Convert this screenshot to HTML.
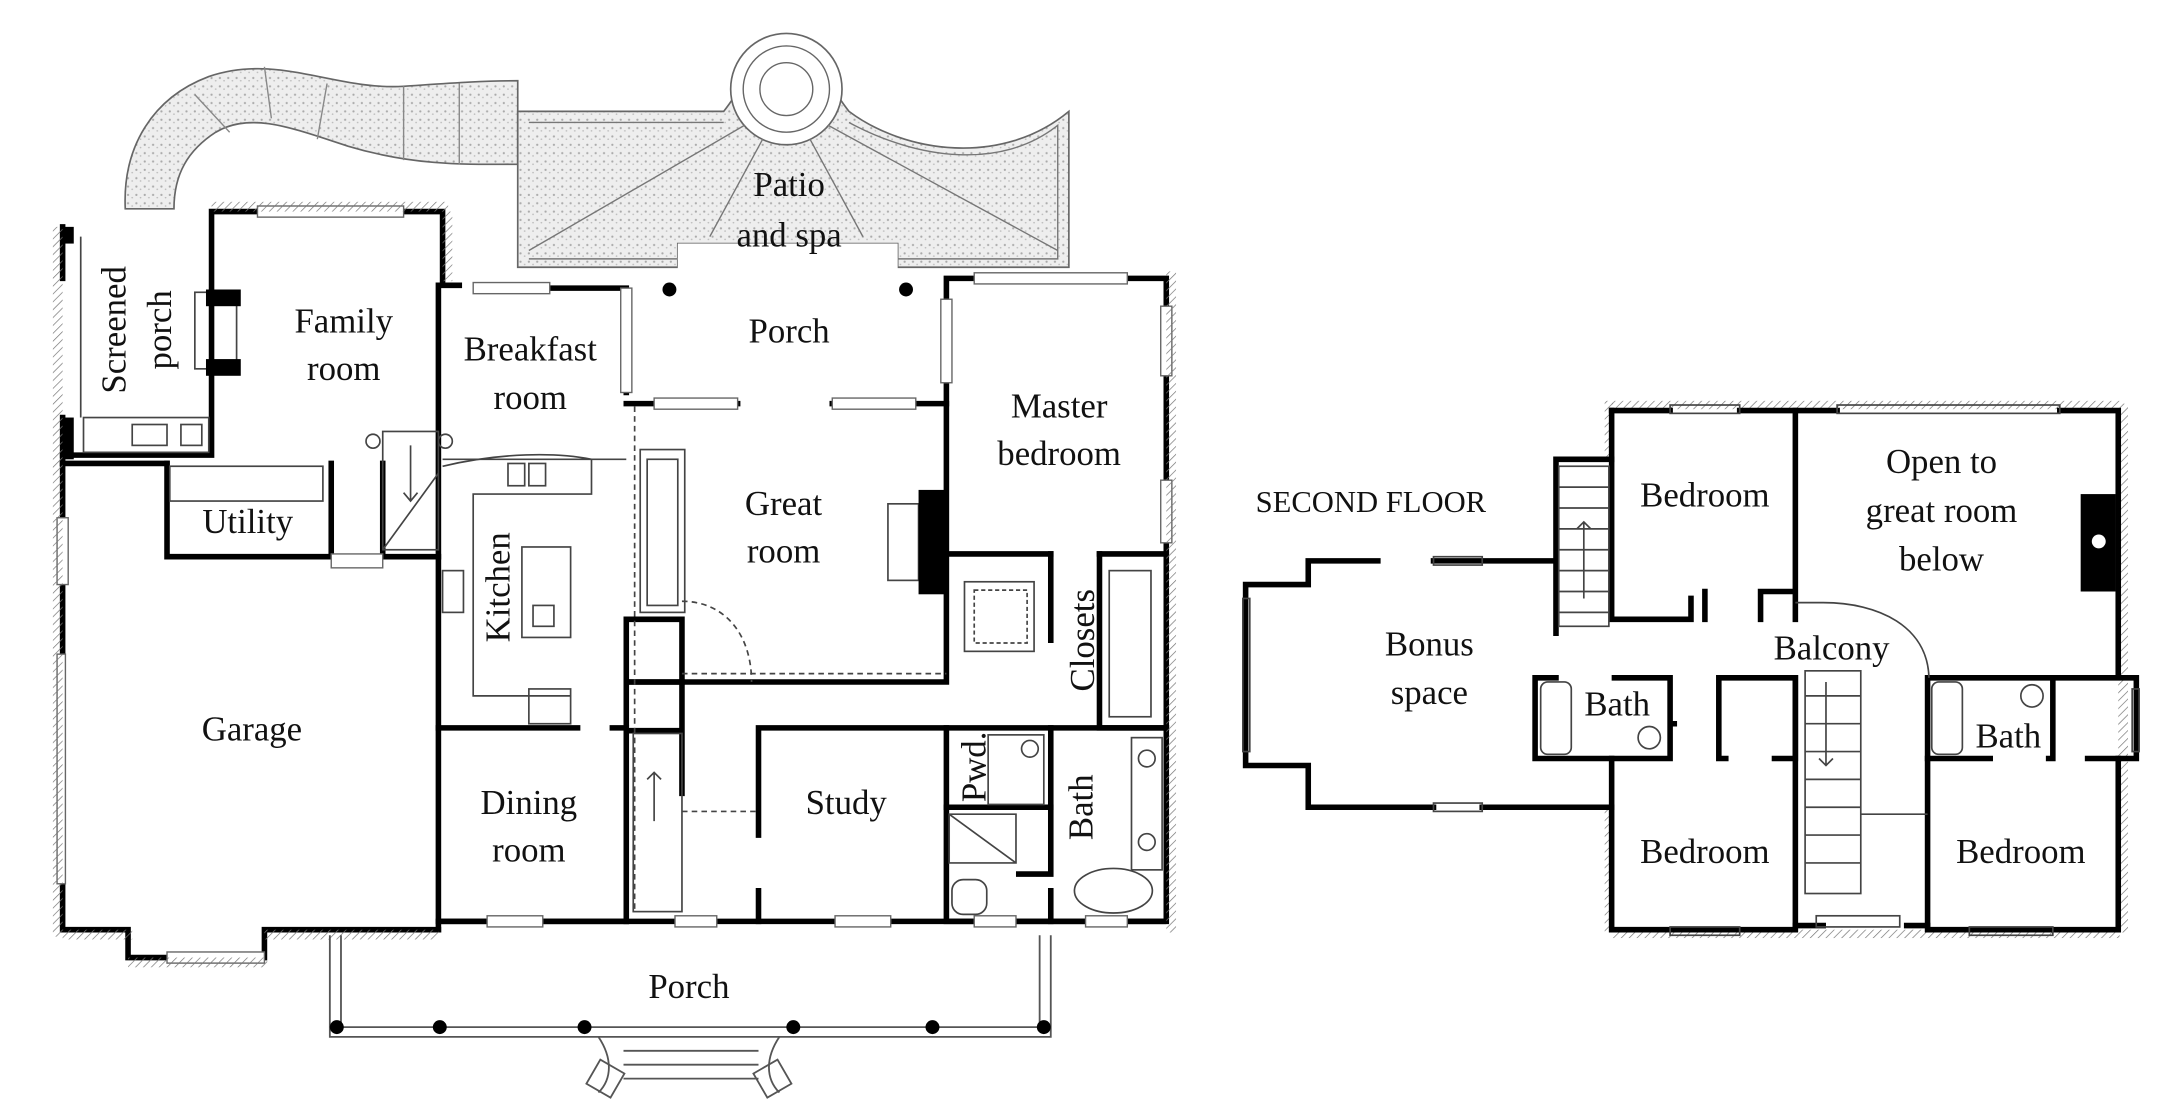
<!DOCTYPE html>
<html><head><meta charset="utf-8"><style>
html,body{margin:0;padding:0;background:#fff;width:2160px;height:1119px;overflow:hidden}
svg{display:block}
text{font-family:"Liberation Serif",serif;fill:#111}
</style></head><body>
<svg width="2160" height="1119" viewBox="0 0 1552 804" xmlns="http://www.w3.org/2000/svg">
<defs>
<pattern id="dots" width="6" height="6" patternUnits="userSpaceOnUse"><rect width="6" height="6" fill="#eee"/><circle cx="2" cy="2" r="0.8" fill="#aaa"/><circle cx="5" cy="4" r="0.6" fill="#bbb"/></pattern>
<pattern id="hatch" width="4" height="4" patternUnits="userSpaceOnUse" patternTransform="rotate(45)"><line x1="0" y1="0" x2="0" y2="4" stroke="#777" stroke-width="1"/></pattern>
</defs>
<rect width="1552" height="804" fill="#fff"/>

<!-- walkway -->
<path d="M90,150 C88,105 110,70 150,55 C200,38 240,65 290,62 C320,60 345,58 372,58 L372,118 C340,118 300,120 250,105 C210,92 180,80 155,95 C135,108 125,125 125,150 Z" fill="url(#dots)" stroke="#666" stroke-width="1.2"/>
<path d="M140,68 L165,95 M190,48 L195,85 M235,60 L228,100 M290,62 L290,115 M330,60 L330,118" stroke="#888" fill="none"/>
<!-- patio -->
<path d="M372,80 L520,80 C540,55 545,30 565,25 C585,30 590,55 610,80 C650,110 720,120 768,80 L768,192 L645,192 L645,175 L487,175 L487,192 L372,192 Z" fill="url(#dots)" stroke="#666" stroke-width="1.2"/>
<path d="M380,88 L520,88 M610,88 C660,115 720,122 760,90 L760,186 L645,186 M487,186 L380,186 Z" fill="none" stroke="#777" stroke-width="1"/>
<circle cx="565" cy="64" r="40" fill="#fff" stroke="#666" stroke-width="1.2"/>
<circle cx="565" cy="64" r="31" fill="none" stroke="#666"/>
<circle cx="565" cy="64" r="19" fill="none" stroke="#666"/>
<path d="M535,90 L380,180 M595,90 L760,180 M548,100 L510,170 M582,100 L620,170" stroke="#777" fill="none"/>
<rect x="487" y="175" width="158" height="18" fill="#fff"/>

<g fill="none" stroke="#000" stroke-width="4" stroke-linecap="square">
<path d="M45,333 L45,372 M45,420 L45,470 M45,635 L45,668 L92,668 L92,688 L190,688 L190,668 L315,668"/>
<path d="M45,333 L120,333"/>
<path d="M315,205 L315,668"/>
<path d="M152,152 L152,327 L45,327 M152,152 L185,152 M290,152 L318,152 L318,205 L330,205 M395,207 L450,207 L450,282"/>
<path d="M45,163 L45,200 M45,300 L45,333"/>
<path d="M120,333 L120,400 L238,400 M275,400 L315,400 M275,333 L275,400 M238,333 L238,400"/>
<path d="M315,523 L415,523 M440,523 L450,523 L450,662"/>
<path d="M450,445 L450,520"/>
<path d="M450,445 L490,445 L490,490 L450,490"/>
<path d="M450,290 L530,290 M598,290 L680,290 L680,200 L700,200 M810,200 L838,200 L838,290"/>
<path d="M680,290 L680,490 L450,490"/>
<path d="M838,290 L838,523"/>
<path d="M680,398 L755,398 M790,398 L838,398"/>
<path d="M755,398 L755,460 M790,398 L790,523 L838,523"/>
<path d="M490,490 L490,570 M450,525 L490,525"/>
<path d="M545,523 L680,523 L838,523 M545,523 L545,600 M545,640 L545,662"/>
<path d="M315,662 L450,662 M680,523 L680,662 L838,662 L838,523"/>
<path d="M680,580 L755,580 L755,523"/>
<path d="M755,580 L755,628 M732,628 L755,628"/>
<path d="M755,640 L755,662"/>
</g>
<g stroke="#000" stroke-width="4">
<line x1="315" y1="662" x2="838" y2="662"/>
</g>
<g fill="#fff" stroke="#666" stroke-width="1">
<rect x="350" y="658" width="40" height="8"/><rect x="485" y="658" width="30" height="8"/><rect x="600" y="658" width="40" height="8"/><rect x="700" y="658" width="30" height="8"/><rect x="780" y="658" width="30" height="8"/>
<rect x="185" y="148" width="105" height="8"/><rect x="340" y="203" width="55" height="8"/><rect x="700" y="196" width="110" height="8"/>
<rect x="470" y="286" width="60" height="8"/><rect x="598" y="286" width="60" height="8"/>
<rect x="120" y="684" width="70" height="8"/><rect x="238" y="398" width="37" height="10"/>
<rect x="41" y="372" width="8" height="48"/><rect x="41" y="470" width="6" height="165"/>
<rect x="834" y="220" width="8" height="50"/><rect x="834" y="345" width="8" height="45"/>
<rect x="446" y="207" width="8" height="75"/><rect x="676" y="215" width="8" height="60"/>
</g>
<g fill="url(#hatch)">
<rect x="38" y="163" width="7" height="170"/><rect x="38" y="333" width="7" height="340"/><rect x="838" y="195" width="7" height="475"/>
<rect x="45" y="668" width="50" height="7"/><rect x="92" y="688" width="100" height="7"/><rect x="190" y="668" width="125" height="7"/>
<rect x="318" y="152" width="7" height="50"/><rect x="152" y="145" width="170" height="7"/>
</g>
<g fill="none" stroke="#444" stroke-width="1.2">
<line x1="58" y1="170" x2="58" y2="300"/>
<rect x="60" y="300" width="90" height="25"/>
<rect x="95" y="305" width="25" height="15"/><rect x="130" y="305" width="15" height="15"/>
<rect x="140" y="210" width="30" height="55"/>
<rect x="122" y="335" width="110" height="25"/>
<rect x="275" y="310" width="40" height="85"/>
<line x1="275" y1="395" x2="315" y2="340"/>
<path d="M295,320 L295,360 M290,354 L295,360 L300,354"/>
<circle cx="268" cy="317" r="5"/><circle cx="320" cy="317" r="5"/>
<path d="M318,330 L450,330"/>
<path d="M318,335 C360,325 400,325 425,330 L425,355 L340,355 L340,500 L410,500"/>
<rect x="365" y="333" width="12" height="16"/><rect x="380" y="333" width="12" height="16"/>
<rect x="375" y="393" width="35" height="65"/><rect x="383" y="435" width="15" height="15"/>
<rect x="380" y="495" width="30" height="25"/>
<rect x="318" y="410" width="15" height="30"/>
<rect x="460" y="323" width="32" height="117"/><rect x="465" y="330" width="22" height="105"/>
<rect x="638" y="362" width="22" height="55"/>
<path d="M490,432 C520,432 540,455 540,490" stroke-dasharray="4 3"/>
<line x1="490" y1="484" x2="680" y2="484" stroke-dasharray="4 3"/>
<line x1="456" y1="292" x2="456" y2="655" stroke-dasharray="4 3"/>
<rect x="455" y="527" width="35" height="128"/>
<path d="M470,590 L470,555 M465,560 L470,555 L475,560"/>
<line x1="490" y1="583" x2="545" y2="583" stroke-dasharray="4 3"/>
<rect x="693" y="418" width="50" height="50"/><rect x="700" y="424" width="38" height="38" stroke-dasharray="3 2"/>
<rect x="797" y="410" width="30" height="105"/>
<rect x="710" y="528" width="40" height="50"/><circle cx="740" cy="538" r="6"/>
<path d="M682,585 L730,585 L730,620 L682,620 Z M682,585 L730,620"/>
<rect x="684" y="632" width="25" height="25" rx="8"/>
<ellipse cx="800" cy="640" rx="28" ry="16"/>
<rect x="813" y="530" width="22" height="95"/><circle cx="824" cy="545" r="6"/><circle cx="824" cy="605" r="6"/>
</g>
<g fill="#000">
<rect x="148" y="208" width="25" height="12"/><rect x="148" y="258" width="25" height="12"/>
<rect x="660" y="352" width="20" height="75"/>
<circle cx="481" cy="208" r="5"/><circle cx="651" cy="208" r="5"/>
<rect x="45" y="300" width="8" height="30"/><rect x="45" y="163" width="8" height="12"/>
</g>
<g fill="none" stroke="#555" stroke-width="1.3">
<path d="M237,672 L237,745 L448,745 M545,745 L755,745 L755,672"/>
<path d="M245,672 L245,738 L755,738 M747,672 L747,738"/>
<path d="M430,745 C440,760 440,775 430,785 M560,745 C550,760 550,775 560,785"/>
<path d="M448,745 L545,745 M448,755 L545,755 M448,765 L545,765 M448,775 L545,775"/>
<rect x="425" y="765" width="20" height="20" transform="rotate(30 435 775)"/><rect x="545" y="765" width="20" height="20" transform="rotate(-30 555 775)"/>
</g>
<g fill="#000">
<circle cx="242" cy="738" r="5"/><circle cx="316" cy="738" r="5"/><circle cx="420" cy="738" r="5"/><circle cx="570" cy="738" r="5"/><circle cx="670" cy="738" r="5"/><circle cx="750" cy="738" r="5"/>
</g>

<!-- SECOND FLOOR -->
<g fill="url(#hatch)">
<rect x="1153" y="288" width="6" height="42"/><rect x="1522" y="290" width="7" height="380"/><rect x="1153" y="580" width="6" height="90"/>
<rect x="1158" y="288" width="365" height="6"/><rect x="1158" y="668" width="365" height="6"/>
</g>
<g fill="none" stroke="#000" stroke-width="4" stroke-linecap="square">
<path d="M1158,295 L1200,295 M1250,295 L1290,295 L1320,295 M1480,295 L1522,295 L1522,485"/>
<path d="M1158,295 L1158,445 L1215,445 L1215,430 M1225,425 L1225,445 M1290,295 L1290,445 M1265,445 L1265,425 L1290,425"/>
<path d="M1118,330 L1158,330 M1118,330 L1118,455"/>
<path d="M1118,403 L1030,403 M990,403 L940,403 L940,420 L895,420 L895,550 L940,550 L940,580 L1030,580 M1065,580 L1158,580"/>
<path d="M1103,487 L1103,545 L1200,545 L1200,487 L1160,487 M1118,487 L1103,487 M1200,520 L1203,520"/>
<path d="M1235,487 L1290,487 L1290,545 L1275,545 M1235,487 L1235,545 L1240,545"/>
<path d="M1158,545 L1158,668 L1290,668 L1290,487"/>
<path d="M1290,665 L1310,665 M1370,665 L1385,665"/>
<path d="M1385,487 L1535,487 L1535,545 L1500,545 M1475,545 L1475,487 M1472,545 L1475,545 M1385,487 L1385,545 L1430,545"/>
<path d="M1385,545 L1385,668 L1522,668 L1522,545"/>
</g>
<g fill="none" stroke="#444" stroke-width="1.2">
<rect x="1120" y="335" width="36" height="115"/>
<path d="M1120,350 H1156 M1120,365 H1156 M1120,380 H1156 M1120,395 H1156 M1120,410 H1156 M1120,425 H1156 M1120,440 H1156"/>
<path d="M1138,430 L1138,375 M1133,380 L1138,375 L1143,380"/>
<rect x="1297" y="482" width="40" height="160"/>
<path d="M1297,500 H1337 M1297,520 H1337 M1297,540 H1337 M1297,560 H1337 M1297,580 H1337 M1297,600 H1337 M1297,620 H1337"/>
<path d="M1312,490 L1312,550 M1307,545 L1312,550 L1317,545"/>
<path d="M1337,585 L1385,585"/>
<path d="M1290,433 L1310,433 C1350,433 1385,450 1386,487"/>
<rect x="1107" y="490" width="22" height="52" rx="5"/><circle cx="1185" cy="530" r="8"/>
<rect x="1388" y="490" width="22" height="52" rx="5"/><circle cx="1460" cy="500" r="8"/>
<rect x="1305" y="658" width="60" height="8"/>
<rect x="893" y="430" width="5" height="110"/>
<rect x="1030" y="400" width="35" height="6"/><rect x="1030" y="577" width="35" height="6"/>
<rect x="1200" y="291" width="50" height="6"/><rect x="1320" y="291" width="160" height="6"/>
<rect x="1200" y="666" width="50" height="6"/><rect x="1415" y="666" width="60" height="6"/>
<rect x="1532" y="495" width="5" height="45"/>
</g>
<rect x="1495" y="355" width="25" height="70" fill="#000"/><circle cx="1508" cy="389" r="5" fill="#fff"/>

<g font-size="25" text-anchor="middle">
<text x="567" y="141">Patio</text><text x="567" y="177">and spa</text>
<text x="567" y="246">Porch</text>
<text x="247" y="239">Family</text><text x="247" y="273">room</text>
<text x="381" y="259">Breakfast</text><text x="381" y="294">room</text>
<text x="761" y="300">Master</text><text x="761" y="334">bedroom</text>
<text x="563" y="370">Great</text><text x="563" y="404">room</text>
<text x="178" y="383">Utility</text>
<text x="181" y="532">Garage</text>
<text x="380" y="585">Dining</text><text x="380" y="619">room</text>
<text x="608" y="585">Study</text>
<text x="495" y="717">Porch</text>
<text transform="translate(90,237) rotate(-90)">Screened</text>
<text transform="translate(123,237) rotate(-90)">porch</text>
<text transform="translate(366,422) rotate(-90)">Kitchen</text>
<text transform="translate(708,551) rotate(-90)">Pwd.</text>
<text transform="translate(786,460) rotate(-90)">Closets</text>
<text transform="translate(785,580) rotate(-90)">Bath</text>
<text x="985" y="368" font-size="22">SECOND FLOOR</text>
<text x="1225" y="364">Bedroom</text>
<text x="1395" y="340">Open to</text><text x="1395" y="375">great room</text><text x="1395" y="410">below</text>
<text x="1027" y="471">Bonus</text><text x="1027" y="506">space</text>
<text x="1316" y="474">Balcony</text>
<text x="1162" y="514">Bath</text>
<text x="1443" y="537">Bath</text>
<text x="1225" y="620">Bedroom</text>
<text x="1452" y="620">Bedroom</text>
</g>
</svg>
</body></html>
